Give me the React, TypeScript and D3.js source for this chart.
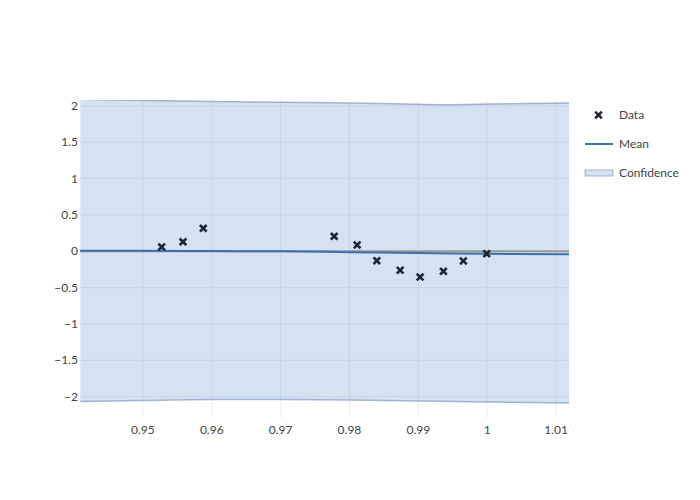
import React from "react";
import * as d3 from "d3";

const dataX = [0.95272, 0.95582, 0.95877, 0.97778, 0.98112, 0.98397, 0.98736, 0.99026, 0.99365, 0.99655, 0.99993];
const dataY = [0.06, 0.13, 0.316, 0.206, 0.087, -0.129, -0.26, -0.354, -0.275, -0.133, -0.033];

const gridX = [0.9409, 0.95, 0.96, 0.97, 0.98, 0.99, 0.995, 1.0, 1.0119];
const meanY = [0.008, 0.006, 0.003, 0.0, -0.012, -0.025, -0.03, -0.034, -0.04];
const upperY = [2.09, 2.075, 2.062, 2.05, 2.04, 2.022, 2.017, 2.025, 2.04];
const lowerY = [-2.065, -2.052, -2.04, -2.04, -2.045, -2.058, -2.065, -2.073, -2.085];

const xTicks = [0.95, 0.96, 0.97, 0.98, 0.99, 1, 1.01];
const yTicks = [-2, -1.5, -1, -0.5, 0, 0.5, 1, 1.5, 2];

const W = 700, H = 500;
const L = 80, R = 569, T = 100, B = 418;
const FONT = "Lato, 'Open Sans', sans-serif";

export default function App() {
  const x = d3.scaleLinear().domain([0.94086, 1.01189]).range([L, R]);
  const y = d3.scaleLinear().domain([-2.293, 2.081]).range([B, T]);

  const band = d3.area<number>()
    .x((_, i) => x(gridX[i]))
    .y0((_, i) => y(lowerY[i]))
    .y1((_, i) => y(upperY[i]))
    .curve(d3.curveMonotoneX);
  const upLine = d3.line<number>().x((_, i) => x(gridX[i])).y((d) => y(d)).curve(d3.curveMonotoneX);
  const idx = gridX.map((_, i) => i);

  const xMark = (cx: number, cy: number, k: number) => {
    const s = 2.4;
    return (
      <path key={k} transform={`translate(${cx},${cy})`}
        d={`M${-s},${-s}L${s},${s}M${-s},${s}L${s},${-s}`}
        stroke="#1f2633" strokeWidth={2.6} strokeLinecap="square" fill="none" />
    );
  };

  return (
    <svg width={W} height={H} style={{ display: "block", position: "absolute", left: 0, top: 0 }} fontFamily={FONT}>
      <rect width={W} height={H} fill="#fff" />
      <defs>
        <clipPath id="clip"><rect x={L} y={T} width={R - L} height={B - T} /></clipPath>
      </defs>
      {xTicks.map((t) => (
        <line key={"gx" + t} x1={x(t)} x2={x(t)} y1={T} y2={B} stroke="#eeeeee" strokeWidth={1} />
      ))}
      {yTicks.map((t) => (
        <line key={"gy" + t} x1={L} x2={R} y1={y(t)} y2={y(t)} stroke="#eeeeee" strokeWidth={1} />
      ))}
      <g clipPath="url(#clip)">
        <path d={band(idx) || ""} fill="rgba(100,150,210,0.28)" stroke="none" />
        <path d={upLine(upperY) || ""} fill="none" stroke="rgba(100,130,180,0.55)" strokeWidth={1.5} />
        <path d={upLine(lowerY) || ""} fill="none" stroke="rgba(100,130,180,0.55)" strokeWidth={1.5} />
        <line x1={L} x2={R} y1={y(0)} y2={y(0)} stroke="#999" strokeWidth={2} />
        <path d={upLine(meanY) || ""} fill="none" stroke="#3d6fb0" strokeWidth={2} />
        {dataX.map((d, i) => xMark(x(d), y(dataY[i]), i))}
      </g>
      {xTicks.map((t) => (
        <text key={"tx" + t} x={x(t)} y={434} textAnchor="middle" fontSize={12} fill="#444">{d3.format("~g")(t)}</text>
      ))}
      {yTicks.map((t) => (
        <text key={"ty" + t} x={78} y={y(t) + 4} textAnchor="end" fontSize={12} fill="#444">{t < 0 ? "\u2212" + Math.abs(t) : String(t)}</text>
      ))}
      <g fontSize={12} fill="#444">
        {xMark(598.5, 115, 100)}
        <text x={619} y={119}>Data</text>
        <line x1={585} x2={613} y1={144} y2={144} stroke="#3d6fb0" strokeWidth={2} />
        <text x={619} y={148}>Mean</text>
        <rect x={585} y={170} width={28} height={6} fill="rgba(100,150,210,0.28)" stroke="rgba(100,130,180,0.55)" strokeWidth={1} />
        <text x={619} y={177}>Confidence</text>
      </g>
    </svg>
  );
}
